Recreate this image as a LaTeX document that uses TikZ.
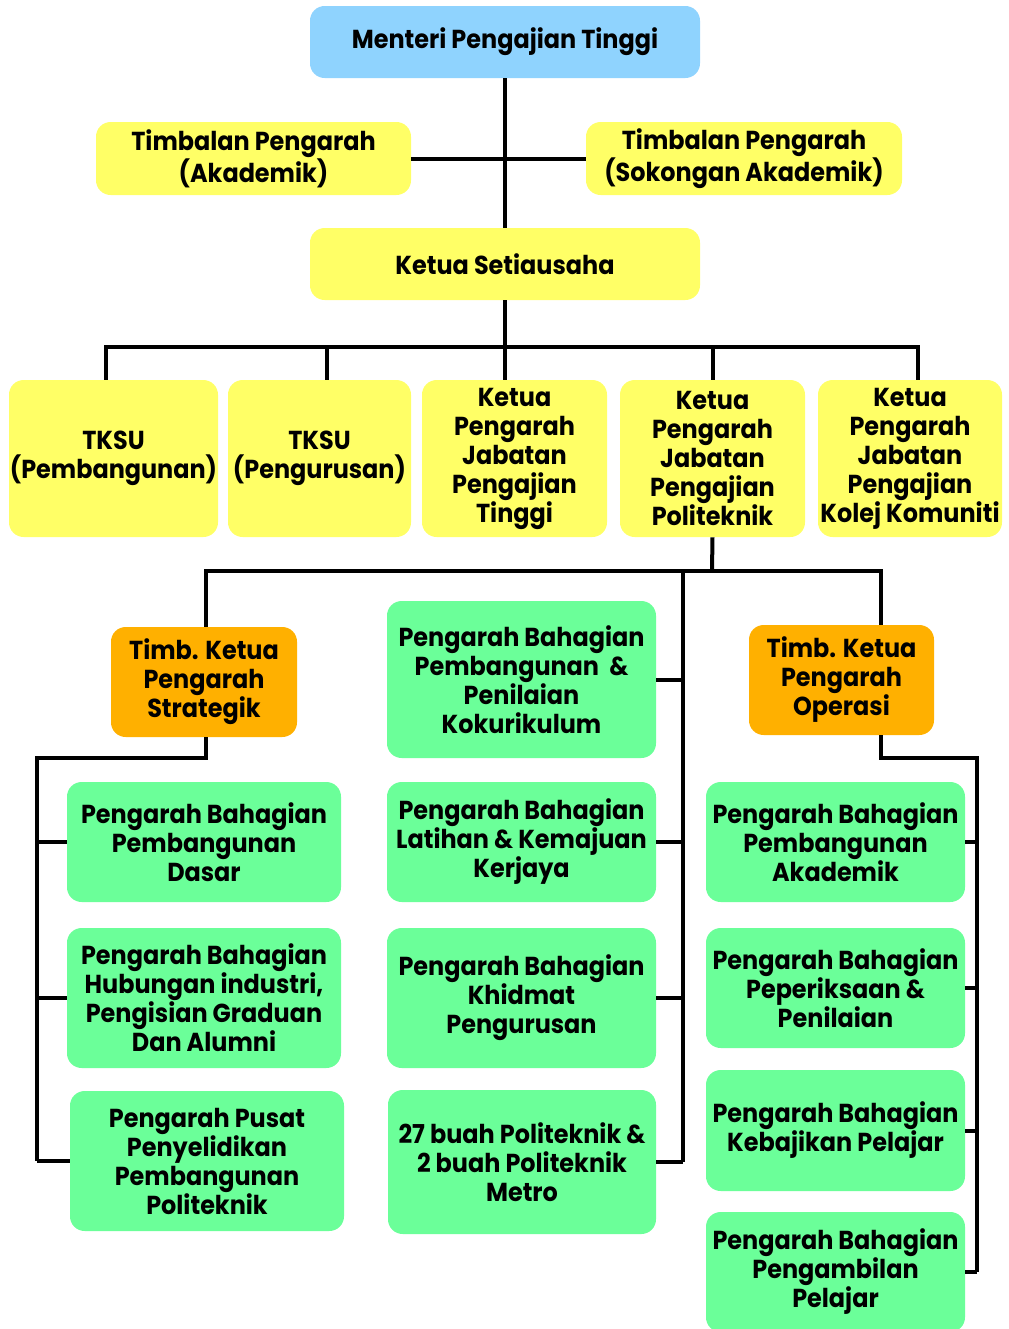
\documentclass[tikz,border=0pt]{standalone}
\usepackage{fontspec}
\setmainfont{Poppins}[FakeStretch=0.92]
\usetikzlibrary{calc}
\definecolor{biru}{HTML}{8FD3FE}
\definecolor{kuning}{HTML}{FFFF66}
\definecolor{oren}{HTML}{FFB000}
\definecolor{hijau}{HTML}{6BFF99}
\tikzset{
  kotak/.style={rounded corners=11pt, align=center, inner sep=0pt, text=black,
    font=\fontsize{19.5}{21.75}\selectfont\bfseries},
  saiz/.style 2 args={minimum width=#1*0.75pt, minimum height=#2*0.75pt},
  garis/.style={line width=3pt}
}
\begin{document}
\begin{tikzpicture}[x=0.75pt,y=-0.75pt]
  \useasboundingbox (0,0) rectangle (1008,1329);
  % atas
  \node[kotak,saiz={390}{72},fill=biru] (menteri) at (505,42) {Menteri Pengajian Tinggi};
  \node[kotak,saiz={315}{73},fill=kuning] (tpa) at (253.5,158.5) {Timbalan Pengarah\\(Akademik)};
  \node[kotak,saiz={316}{73},fill=kuning] (tps) at (744,158.5) {Timbalan Pengarah\\(Sokongan Akademik)};
  \node[kotak,saiz={390}{72},fill=kuning] (ks) at (505,264) {Ketua Setiausaha};
  % baris kedua
  \node[kotak,saiz={209}{157},fill=kuning] (tksu1) at (113.5,458.5) {TKSU\\(Pembangunan)};
  \node[kotak,saiz={183}{157},fill=kuning] (tksu2) at (319.5,458.5) {TKSU\\(Pengurusan)};
  \node[kotak,saiz={185}{157},fill=kuning] (kpt) at (514.5,458.5) {Ketua\\Pengarah\\Jabatan\\Pengajian\\Tinggi};
  \node[kotak,saiz={185}{157},fill=kuning] (kpp) at (712.5,458.5) {Ketua\\Pengarah\\Jabatan\\Pengajian\\Politeknik};
  \node[kotak,saiz={184}{157},fill=kuning] (kpk) at (910,458.5) {Ketua\\Pengarah\\Jabatan\\Pengajian\\Kolej Komuniti};
  % timbalan ketua pengarah
  \node[kotak,saiz={186}{110},fill=oren] (strat) at (204,682) {Timb. Ketua\\Pengarah\\Strategik};
  \node[kotak,saiz={185}{110},fill=oren] (opr) at (841.5,680) {Timb. Ketua\\Pengarah\\Operasi};
  % lajur tengah
  \node[kotak,saiz={269}{157},fill=hijau] (m1) at (521.5,679.5) {Pengarah Bahagian\\Pembangunan \ \&\\Penilaian\\Kokurikulum};
  \node[kotak,saiz={269}{120},fill=hijau] (m2) at (521.5,842) {Pengarah Bahagian\\Latihan \& Kemajuan\\Kerjaya};
  \node[kotak,saiz={269}{140},fill=hijau] (m3) at (521.5,998) {Pengarah Bahagian\\Khidmat\\Pengurusan};
  \node[kotak,saiz={268}{144},fill=hijau] (m4) at (522,1162) {27 buah Politeknik \&\\2 buah Politeknik\\Metro};
  % lajur kiri
  \node[kotak,saiz={274}{120},fill=hijau] (l1) at (204,842) {Pengarah Bahagian\\Pembangunan\\Dasar};
  \node[kotak,saiz={274}{140},fill=hijau] (l2) at (204,998) {Pengarah Bahagian\\Hubungan industri,\\Pengisian Graduan\\Dan Alumni};
  \node[kotak,saiz={274}{140},fill=hijau] (l3) at (207,1161) {Pengarah Pusat\\Penyelidikan\\Pembangunan\\Politeknik};
  % lajur kanan
  \node[kotak,saiz={259}{120},fill=hijau] (r1) at (835.5,842) {Pengarah Bahagian\\Pembangunan\\Akademik};
  \node[kotak,saiz={259}{120},fill=hijau] (r2) at (835.5,988) {Pengarah Bahagian\\Peperiksaan \&\\Penilaian};
  \node[kotak,saiz={259}{121},fill=hijau] (r3) at (835.5,1130.5) {Pengarah Bahagian\\Kebajikan Pelajar};
  \node[kotak,saiz={259}{120},fill=hijau] (r4) at (835.5,1272) {Pengarah Bahagian\\Pengambilan\\Pelajar};

  \coordinate (bus1) at (505,347);
  \coordinate (bus2) at (712,571);
  \coordinate (tengah) at (683,571);
  \coordinate (kiri) at (37,758);
  \coordinate (kanan) at (977,758);

  \draw[garis] (menteri.south) -- (ks.north);
  \draw[garis] (tpa.east) -- (tps.west);
  \draw[garis] (ks.south) -- (ks.south |- kpt.north);
  \draw[garis] ($(tksu1.north)+(-8,0)$) |- (bus1) -| ($(kpk.north)+(8,0)$);
  \draw[garis] ($(tksu2.north)+(7,0)$) -- ($(tksu2.north |- bus1)+(7,0)$);
  \draw[garis] (kpp.north) -- (kpp.north |- bus1);
  \draw[garis] (kpp.south) -- (bus2);
  \draw[garis] ($(strat.north)+(2,0)$) |- (bus2) -| ($(opr.north)+(39,0)$);
  \draw[garis] (tengah) -- (tengah |- m4.east);
  \foreach \n in {m1,m2,m3,m4}
    \draw[garis] (\n.east) -- (\n.east -| tengah);
  \draw[garis] ($(strat.south)+(2,0)$) |- (kiri) -- (kiri |- l3.west);
  \foreach \n in {l1,l2,l3}
    \draw[garis] (\n.west) -- (\n.west -| kiri);
  \draw[garis] ($(opr.south)+(39,0)$) |- (kanan) -- (kanan |- r4.east);
  \foreach \n in {r1,r2,r3,r4}
    \draw[garis] (\n.east) -- (\n.east -| kanan);
\end{tikzpicture}
\end{document}
